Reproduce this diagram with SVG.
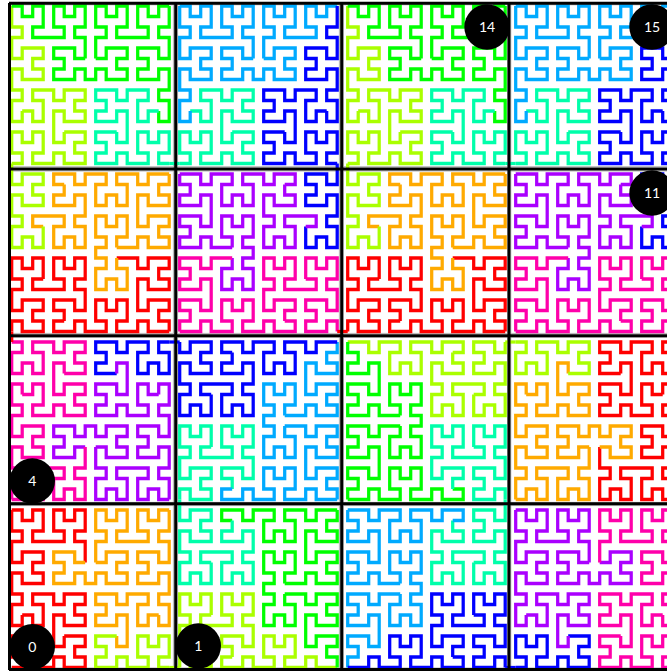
<svg xmlns="http://www.w3.org/2000/svg" xmlns:xlink="http://www.w3.org/1999/xlink" width="667" height="672" viewBox="0 0 667 672">
<style>
.tile{fill:none;stroke-width:.31;stroke-linejoin:miter}
.conn{fill:none;stroke-width:3.25}
.r{stroke:#ff0000}.o{stroke:#ffaa00}.y{stroke:#aaff00}.g{stroke:#00ff00}.t{stroke:#00ffaa}.s{stroke:#00aaff}.b{stroke:#0000ff}.p{stroke:#aa00ff}.m{stroke:#ff00aa}
.grid{fill:none;stroke:#000;stroke-width:3}
.thin{fill:none;stroke:#b4b4b4;stroke-width:1}
.dot{fill:#000}
.lbl{fill:#fff;font-family:"Lato","Liberation Sans",sans-serif;font-size:14px;text-anchor:middle}
</style>
<defs>
<path id="s1" d="M0 15h1v-1h-1v-1v-1h1v1h1v-1h1v1v1h-1v1h1h1v-1h1v1h1h1v-1h-1v-1h1v-1h-1h-1"/>
<path id="s2" d="M5 12v1h-1v-1v-1v-1h1v1h1h1v-1h-1v-1h1v-1h-1h-1v1h-1v-1h-1h-1v1h1v1v1h-1v-1h-1"/>
<path id="s3" d="M1 10v1h-1v-1v-1h1v-1h-1v-1v-1h1v1h1h1v-1h-1v-1h1v-1h-1h-1v1h-1v-1v-1h1v-1h-1v-1v-1"/>
<path id="s4" d="M0 0h1v1h1v-1h1v1v1h-1v1h1h1h1v-1h-1v-1v-1h1v1h1v-1h1v1v1h-1v1h1v1v1"/>
<path id="s5" d="M7 5h-1v-1h-1h-1v1h1v1h-1v1h1h1v-1h1v1h1v-1h1v1h1h1v-1h-1v-1h1v-1h-1h-1v1h-1"/>
<path id="s6" d="M8 5v-1v-1h1v-1h-1v-1v-1h1v1h1v-1h1v1v1h-1v1h1h1h1v-1h-1v-1v-1h1v1h1v-1h1"/>
<path id="s7" d="M15 0v1v1h-1v1h1v1v1h-1v-1h-1h-1v1h1v1h-1v1h1h1v-1h1v1v1h-1v1h1v1v1h-1v-1"/>
<path id="s8" d="M14 10h-1v1h-1v-1v-1h1v-1h-1h-1v1h-1v-1h-1h-1v1h1v1h-1v1h1h1v-1h1v1v1v1h-1v-1"/>
<path id="s9" d="M10 12h-1h-1v1h1v1h-1v1h1h1v-1h1v1h1h1v-1h-1v-1v-1h1v1h1v-1h1v1v1h-1v1h1"/>
<g id="t0"><use href="#s1" class="r"/><use href="#s2" class="r"/><use href="#s3" class="r"/><use href="#s4" class="r"/><use href="#s5" class="o"/><use href="#s6" class="o"/><use href="#s7" class="o"/><use href="#s8" class="o"/><use href="#s9" class="y"/></g>
<g id="t1"><use href="#s1" class="y"/><use href="#s2" class="y"/><use href="#s3" class="y"/><use href="#s4" class="g"/><use href="#s5" class="g"/><use href="#s6" class="g"/><use href="#s7" class="g"/><use href="#s8" class="t"/><use href="#s9" class="t"/></g>
<g id="t2"><use href="#s1" class="t"/><use href="#s2" class="t"/><use href="#s3" class="s"/><use href="#s4" class="s"/><use href="#s5" class="s"/><use href="#s6" class="s"/><use href="#s7" class="b"/><use href="#s8" class="b"/><use href="#s9" class="b"/></g>
<g id="t3"><use href="#s1" class="b"/><use href="#s2" class="p"/><use href="#s3" class="p"/><use href="#s4" class="p"/><use href="#s5" class="p"/><use href="#s6" class="m"/><use href="#s7" class="m"/><use href="#s8" class="m"/><use href="#s9" class="m"/></g>
</defs>
<rect width="667" height="672" fill="#fff"/>
<path id="tile-borders" class="thin" d="M173.4 3V670M177.6 3V670M339.4 3V670M343.4 3V670M507.6 3V670M510.8 3V670M9 4.8H667M9 166.7H667M9 171H667M9 333.4H667M9 337.2H667M9 502.4H667M9 505.6H667M9 668H667"/>
<g id="tiles">
<g id="tile-r0c0" class="tile" transform="matrix(10.5 0 0 10.5 11.7 6)"><use href="#t1"/></g>
<g id="tile-r0c1" class="tile" transform="matrix(10.5 0 0 10.5 179.7 6)"><use href="#t2"/></g>
<g id="tile-r0c2" class="tile" transform="matrix(10.5 0 0 10.5 347.7 6)"><use href="#t1"/></g>
<g id="tile-r0c3" class="tile" transform="matrix(10.5 0 0 10.5 515.7 6)"><use href="#t2"/></g>
<g id="tile-r1c0" class="tile" transform="matrix(0 -10.5 -10.5 0 169.2 331.5)"><use href="#t0"/></g>
<g id="tile-r1c1" class="tile" transform="matrix(0 10.5 10.5 0 179.7 174)"><use href="#t3"/></g>
<g id="tile-r1c2" class="tile" transform="matrix(0 -10.5 -10.5 0 505.2 331.5)"><use href="#t0"/></g>
<g id="tile-r1c3" class="tile" transform="matrix(0 10.5 10.5 0 515.7 174)"><use href="#t3"/></g>
<g id="tile-r2c0" class="tile" transform="matrix(-10.5 0 0 -10.5 169.2 499.5)"><use href="#t3"/></g>
<g id="tile-r2c1" class="tile" transform="matrix(0 -10.5 -10.5 0 337.2 499.5)"><use href="#t2"/></g>
<g id="tile-r2c2" class="tile" transform="matrix(0 10.5 10.5 0 347.7 342)"><use href="#t1"/></g>
<g id="tile-r2c3" class="tile" transform="matrix(-10.5 0 0 -10.5 673.2 499.5)"><use href="#t0"/></g>
<g id="tile-r3c0" class="tile" transform="matrix(10.5 0 0 10.5 11.7 510)"><use href="#t0"/></g>
<g id="tile-r3c1" class="tile" transform="matrix(0 -10.5 -10.5 0 337.2 667.5)"><use href="#t1"/></g>
<g id="tile-r3c2" class="tile" transform="matrix(0 10.5 10.5 0 347.7 510)"><use href="#t2"/></g>
<g id="tile-r3c3" class="tile" transform="matrix(10.5 0 0 10.5 515.7 510)"><use href="#t3"/></g>
</g>
<g id="connectors" class="conn">
<path class="y" d="M169.2 667.5H179.7"/>
<path class="t" d="M179.7 510V499.5"/>
<path class="b" d="M179.7 342H169.2"/>
<path class="r" d="M11.7 342V331.5"/>
<path class="y" d="M11.7 174V163.5"/>
<path class="t" d="M169.2 163.5H179.7"/>
<path class="b" d="M337.2 163.5V174"/>
<path class="r" d="M337.2 331.5H347.7"/>
<path class="y" d="M347.7 174V163.5"/>
<path class="t" d="M505.2 163.5H515.7"/>
<path class="y" d="M515.7 342H505.2"/>
<path class="t" d="M505.2 499.5V510"/>
<path class="b" d="M505.2 667.5H515.7"/>
</g>
<g id="grid">
<path class="grid" d="M9.5 3V670M175.7 3V670M341.7 3V670M509 3V670M9 3.3H667M9 169H667M9 335.7H667M9 503.7H667M9 669.5H667"/>
</g>
<g id="n0"><circle class="dot" cx="32.3" cy="646.7" r="22.7"/><text class="lbl" x="32.3" y="652">0</text></g>
<g id="n1"><circle class="dot" cx="198.3" cy="646" r="22.7"/><text class="lbl" x="198.3" y="651">1</text></g>
<g id="n4"><circle class="dot" cx="32.3" cy="481" r="22.7"/><text class="lbl" x="32.3" y="486">4</text></g>
<g id="n11"><circle class="dot" cx="652" cy="193" r="22.7"/><text class="lbl" x="652" y="198">11</text></g>
<g id="n14"><circle class="dot" cx="487" cy="27" r="22.7"/><text class="lbl" x="487" y="32">14</text></g>
<g id="n15"><circle class="dot" cx="652" cy="27" r="22.7"/><text class="lbl" x="652" y="32">15</text></g>
</svg>
